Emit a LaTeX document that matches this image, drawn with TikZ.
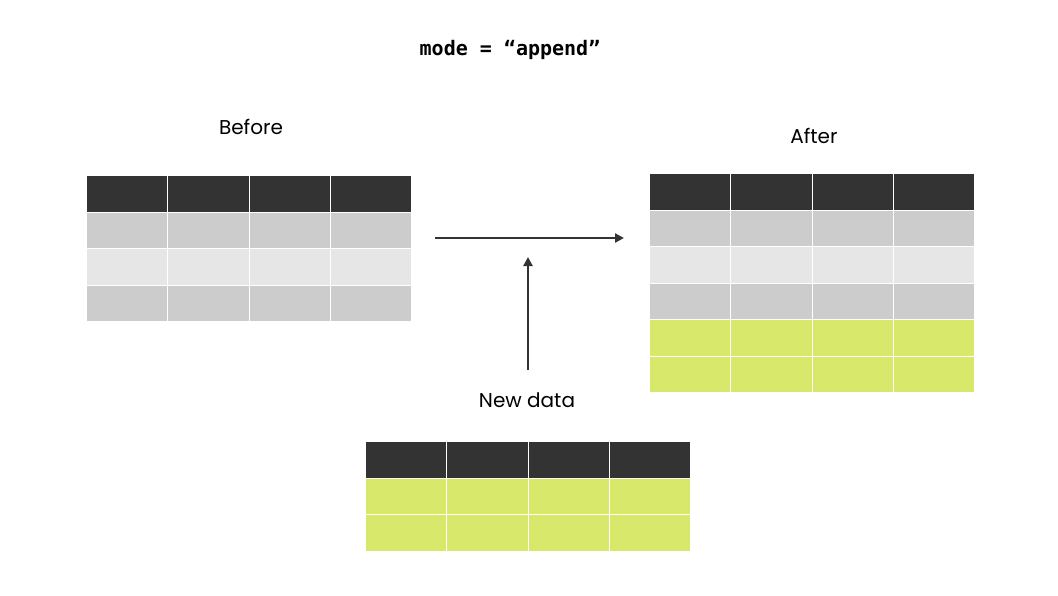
\documentclass[tikz,border=0pt]{standalone}
\usepackage{fontspec}
\setmainfont{Poppins}
\newfontfamily\monof{DejaVu Sans Mono}
\usetikzlibrary{arrows.meta}
\definecolor{hdr}{HTML}{333333}
\definecolor{gA}{HTML}{CCCCCC}
\definecolor{gB}{HTML}{E6E6E6}
\definecolor{grn}{HTML}{D7E86A}
\tikzset{
  cell/.style={draw=white,line width=1pt,minimum width=81.25pt,minimum height=36.5pt,inner sep=0pt,anchor=north west},
  lbl/.style={font=\fontsize{20}{24}\selectfont,text=black},
  conn/.style={draw=hdr,line width=2.2pt,-{Triangle[length=9pt,width=9pt]}}
}
\newcommand{\mytable}[4]{% name, x, y, list of colors
  \foreach \c [count=\r from 0] in {#4}{
    \foreach \k in {0,1,2,3}{
      \node[cell,fill=\c] (#1-\r-\k) at ({#2+\k*81.25},{#3+\r*36.5}) {};
    }
  }
}
\begin{document}
\begin{tikzpicture}[x=1pt,y=-1pt]
\useasboundingbox[fill=white] (0,0) rectangle (1058,595);
\node[font=\monof\bfseries\fontsize{20}{24}\selectfont] (title) at (510,50) {mode = “append”};
\node[lbl] (before) at (251,127) {Before};
\node[lbl] (after) at (814,136) {After};
\node[lbl] (newdata) at (527,400) {New data};
\mytable{b}{86}{175}{hdr,gA,gB,gA}
\mytable{a}{649}{173}{hdr,gA,gB,gA,grn,grn}
\mytable{n}{365}{441}{hdr,grn,grn}
\coordinate (hs) at (435,238);
\coordinate (he) at (624,238);
\coordinate (vs) at (528,370);
\coordinate (ve) at (528,257);
\draw[conn] (hs) -- (he);
\draw[conn] (vs) -- (ve);
\end{tikzpicture}
\end{document}
